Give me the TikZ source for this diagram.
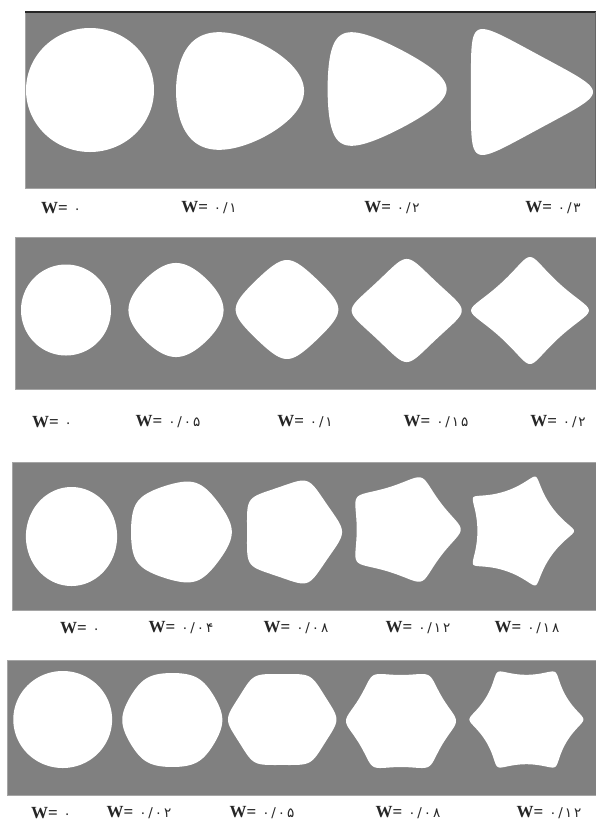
\documentclass[tikz,border=0pt]{standalone}
\usepackage{fontspec}
\setmainfont{Liberation Serif}
\newfontfamily\fadigits[LetterSpace=14]{DejaVu Sans}
\definecolor{panelgray}{RGB}{128,128,128}
\definecolor{paneledge}{RGB}{165,165,165}
\tikzset{
  panel/.style={fill=panelgray,draw=paneledge,line width=0.8pt},
  shapefill/.style={fill=white},
  lab/.style={font=\fontsize{17}{20}\selectfont,inner sep=0pt,anchor=center,text=black!85}
}
\newcommand\Wl[1]{\textbf{W=}\hspace{0.35em}{\fadigits\fontsize{13.5}{16}\selectfont #1}}
\newcommand\wshape[6]{\fill[shapefill] plot[domain=0:360,samples=241,variable=\t]
  ({#1+#3*(cos(\t)+#5*cos(#6*\t))},{#2+#4*(sin(\t)-#5*sin(#6*\t))}) -- cycle;}
\begin{document}
\begin{tikzpicture}[x=1pt,y=-1pt]
\useasboundingbox (0,0) rectangle (596,825);
\fill[white] (0,0) rectangle (596,825);
% panels
\draw[panel] (25,12) rectangle (596,188);
\draw[black!85,line width=1.2pt] (25,12) -- (596,12);
\draw[black!60,line width=0.8pt] (595.6,12) -- (595.6,188);
\draw[panel] (15,237) rectangle (596,389);
\draw[panel] (12,462) rectangle (596,610);
\draw[panel] (7,660) rectangle (596,795);
% row 1, n = 3
\wshape{90}{90}{64}{62}{0}{2}
\wshape{234.6}{91}{64}{58}{0.085}{2}
\wshape{377}{89}{59.5}{54}{0.17}{2}
\wshape{516.4}{92}{61}{57}{0.255}{2}
% row 2, n = 4
\wshape{66}{310}{45}{45.5}{0}{3}
\wshape{176}{310}{45.6}{45.1}{0.0425}{3}
\wshape{287}{309.5}{47.3}{45.6}{0.085}{3}
\wshape{406.7}{310.5}{48.8}{45.7}{0.1275}{3}
\wshape{530}{310.5}{50.3}{45.7}{0.17}{3}
% row 3, n = 5
\wshape{71.5}{536.5}{45.6}{49.5}{0}{4}
\wshape{179.7}{532}{50.4}{50}{0.034}{4}
\wshape{291.3}{532}{47.5}{50}{0.068}{4}
\wshape{403.4}{529.5}{52}{49.5}{0.102}{4}
\wshape{518.3}{531}{48.3}{49.5}{0.153}{4}
% row 4, n = 6
\wshape{62.7}{719.5}{49.4}{48.5}{0}{5}
\wshape{172.3}{720}{49.2}{47.8}{0.017}{5}
\wshape{282.2}{719.5}{52}{47.5}{0.0425}{5}
\wshape{401}{721}{51.5}{49.4}{0.068}{5}
\wshape{526.4}{719.5}{51.7}{49.8}{0.102}{5}
% labels
\node[lab] (a1) at (61,208) {\Wl{۰}};
\node[lab] (a2) at (209,208) {\Wl{۰/۱}};
\node[lab] (a3) at (392,208) {\Wl{۰/۲}};
\node[lab] (a4) at (553,208) {\Wl{۰/۳}};
\node[lab] (b1) at (52,422) {\Wl{۰}};
\node[lab] (b2) at (168,422) {\Wl{۰/۰۵}};
\node[lab] (b3) at (305,422) {\Wl{۰/۱}};
\node[lab] (b4) at (436,422) {\Wl{۰/۱۵}};
\node[lab] (b5) at (558,422) {\Wl{۰/۲}};
\node[lab] (c1) at (80,628) {\Wl{۰}};
\node[lab] (c2) at (181,628) {\Wl{۰/۰۴}};
\node[lab] (c3) at (296,628) {\Wl{۰/۰۸}};
\node[lab] (c4) at (418,628) {\Wl{۰/۱۲}};
\node[lab] (c5) at (527,628) {\Wl{۰/۱۸}};
\node[lab] (d1) at (51,813) {\Wl{۰}};
\node[lab] (d2) at (139,813) {\Wl{۰/۰۲}};
\node[lab] (d3) at (262,813) {\Wl{۰/۰۵}};
\node[lab] (d4) at (408,813) {\Wl{۰/۰۸}};
\node[lab] (d5) at (549,813) {\Wl{۰/۱۲}};
\end{tikzpicture}
\end{document}
